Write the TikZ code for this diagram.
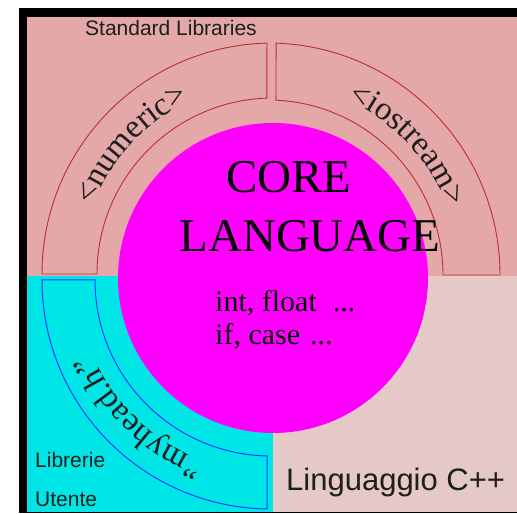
\documentclass[tikz,border=0pt]{standalone}
\usepackage{fontspec}
\setmainfont{Liberation Serif}
\newfontfamily\arialf{Liberation Sans}
\usetikzlibrary{decorations.text}
\definecolor{toppink}{RGB}{228,168,168}
\definecolor{lowpink}{RGB}{228,201,198}
\definecolor{cyanbg}{RGB}{0,229,229}
\definecolor{corefill}{RGB}{255,0,255}
\definecolor{arcred}{RGB}{190,45,45}
\definecolor{arcblue}{RGB}{20,60,255}
\definecolor{txtgray}{RGB}{30,30,30}
\begin{document}
\begin{tikzpicture}[x=1pt,y=1pt,
  redarc/.style={draw=arcred, line width=0.9pt},
  bluearc/.style={draw=arcblue, line width=1pt},
  sanslabel/.style={font=\arialf\fontsize{21}{21}\selectfont, text=txtgray, inner sep=0pt, anchor=base west},
  seriflabel/.style={inner sep=0pt, text=black}
]
\useasboundingbox (0,0) rectangle (517,514);
\fill[white] (0,0) rectangle (517,514);
\fill[black] (19,1) rectangle (517,506);
\fill[toppink] (27,238) rectangle (517,497);
\fill[cyanbg] (27,2) rectangle (273,238);
\fill[lowpink] (273,2) rectangle (517,238);

% left standard library arc: <numeric>
\begin{scope}[shift={(273,240)}]
  \draw[redarc] (91.5:231) arc[start angle=91.5,end angle=180,radius=231]
    -- (180:176) arc[start angle=180,end angle=92,radius=176] -- cycle;
  \path[decorate,decoration={text along path, text align=center,
    text={|\fontsize{33}{33}\selectfont\color{txtgray}|<numeric>}}]
    (187.5:192) arc[start angle=187.5,end angle=87.5,radius=192];
\end{scope}

% right standard library arc: <iostream>
\begin{scope}[shift={(268,239)}]
  \draw[redarc] (88:232) arc[start angle=88,end angle=0,radius=232]
    -- (0:175) arc[start angle=0,end angle=87.4,radius=175] -- cycle;
  \path[decorate,decoration={text along path, text align=center,
    text={|\fontsize{33}{33}\selectfont\color{txtgray}|<iostream>}}]
    (93:192) arc[start angle=93,end angle=-7,radius=192];
\end{scope}

% user library arc: "myhead.h"
\begin{scope}[shift={(271,234)}]
  \draw[bluearc] (180:229) arc[start angle=180,end angle=269,radius=229]
    -- (268.7:176) arc[start angle=268.7,end angle=180,radius=176] -- cycle;
  \path[decorate,decoration={text along path, text align=center,
    text={|\fontsize{33}{33}\selectfont\color{txtgray}|"myhead.h"}}]
    (276:193) arc[start angle=276,end angle=176,radius=193];
\end{scope}

% core circle
\fill[corefill] (273,236) circle[radius=155];

\node[seriflabel, anchor=base, font=\fontsize{47}{47}\selectfont] (core) at (289,321) {CORE};
\node[seriflabel, anchor=base, font=\fontsize{47}{47}\selectfont] (lang) at (310,262) {LANGUAGE};
\node[seriflabel, anchor=base west, font=\fontsize{30}{30}\selectfont] (intf) at (215,202) {int, float\hspace{16pt}...};
\node[seriflabel, anchor=base west, font=\fontsize{30}{30}\selectfont] (ifc) at (215,169) {if, case\hspace{10pt}...};

\node[sanslabel] (std) at (85,478) {Standard Libraries};
\node[sanslabel] (lib) at (35,46) {Librerie};
\node[sanslabel] (ute) at (35,7) {Utente};
\node[sanslabel, font=\arialf\fontsize{31}{31}\selectfont] (cpp) at (286,23) {Linguaggio C++};
\end{tikzpicture}
\end{document}
